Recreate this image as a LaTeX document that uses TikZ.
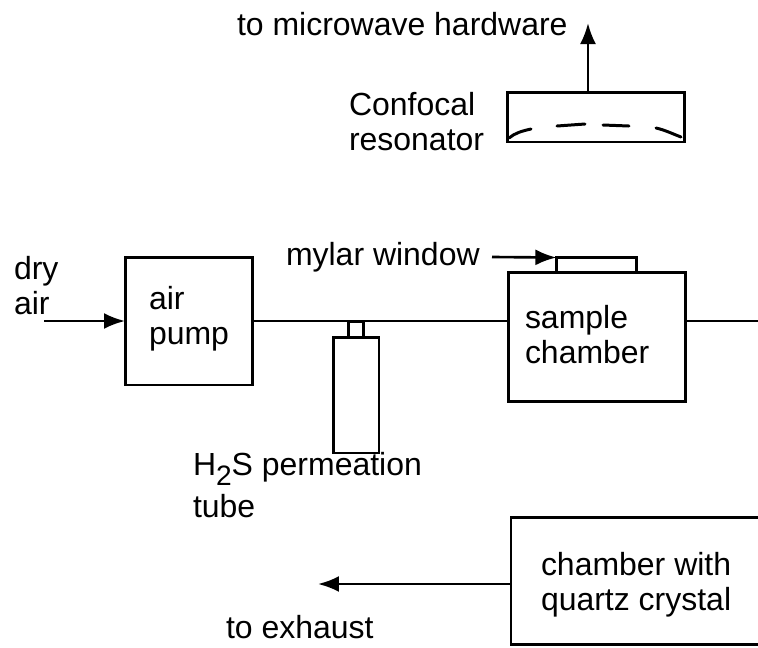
\documentclass[tikz,border=0pt]{standalone}
\usepackage{fontspec}
\setmainfont{Liberation Sans}
\usetikzlibrary{arrows.meta, positioning}

\begin{document}
\begin{tikzpicture}[
    x=0.02cm, y=-0.02cm,
    % Define styles for the nodes
    base_node/.style={rectangle, draw=black, line width=1.7pt, outer sep=0pt, inner sep=0pt, align=left, font=\fontsize{18.2}{19.9}\selectfont},
    text_node/.style={rectangle, inner sep=0pt, outer sep=0pt, align=left, anchor=base west, font=\fontsize{18.2}{19.9}\selectfont},
    % Styles for arrows
    pipe/.style={line width=1.5pt},
    arrow/.style={pipe, -{Latex[length=0.42cm, width=0.32cm]}},
    mirror/.style={line width=1.7pt, line cap=round}
]
    \useasboundingbox (0,0) rectangle (758,647);
    \clip (0,0) rectangle (758,647);

    % =========================================================================
    % MAIN FLOW
    % =========================================================================
    \node (air_pump) [base_node, minimum width=2.56cm, minimum height=2.56cm] at (189,321) {};
    \node (pump_text) [text_node] at (149,344) {air\\pump};
    \node (sample_chamber) [base_node, minimum width=3.54cm, minimum height=2.58cm, right=5.12cm of air_pump, yshift=-0.32cm] {};
    \node (sample_text) [text_node] at (525,363) {sample\\chamber};
    \node (mylar_window) [base_node, minimum width=1.6cm, minimum height=0.3cm, above=0cm of sample_chamber, xshift=-0.02cm] {};

    \coordinate (air_in) at (44,321);
    \coordinate (pipe_out) at (758,321);
    \draw [arrow] (air_in) -- (air_pump.west);
    \draw [pipe] (air_pump.east) -- (air_pump.east -| sample_chamber.west);
    \draw [pipe] (air_pump.east -| sample_chamber.east) -- (pipe_out);

    \node (dry_text) [text_node] at (14,314) {dry\\air};

    % Mylar window label
    \node (mylar_text) [text_node] at (286,265) {mylar window};
    \coordinate (mylar_start) at (492,257);
    \draw [arrow] (mylar_start) -- (mylar_window.north west);

    % =========================================================================
    % PERMEATION TUBE
    % =========================================================================
    \node (perm_tube) [base_node, minimum width=0.92cm, minimum height=2.32cm] at (356,395) {};
    \node (tube_neck) [base_node, minimum width=0.3cm, minimum height=0.32cm, above=0cm of perm_tube] {};
    \node (perm_text) [text_node] at (193,517) {H\raisebox{-0.3em}{\fontsize{16}{16}\selectfont 2}S permeation\\[0.2em]tube};

    % =========================================================================
    % CONFOCAL RESONATOR
    % =========================================================================
    \node (resonator) [base_node, minimum width=3.56cm, minimum height=1cm] at (596,117) {};
    \node (resonator_text) [text_node] at (349,150) {Confocal\\resonator};
    \node (microwave_text) [text_node] at (237,35) {to microwave hardware};
    \coordinate (microwave_out) at (588,23);
    \draw [arrow] (resonator.north -| microwave_out) -- (microwave_out);

    % Mirror surfaces
    \draw [mirror] (509,138) .. controls (515,133) and (522,131) .. (531,129);
    \draw [mirror] (557,126) -- (585,124);
    \draw [mirror] (603,125) -- (629,126);
    \draw [mirror] (656,128) .. controls (665,130) and (673,134) .. (681,137);

    % =========================================================================
    % EXHAUST
    % =========================================================================
    \node (quartz_chamber) [base_node, minimum width=6cm, minimum height=2.56cm, anchor=north west] at (511,517) {};
    \node (quartz_text) [text_node] at (541,610) {chamber with\\quartz crystal};
    \coordinate (exhaust_out) at (318,584);
    \draw [arrow] (quartz_chamber.west |- exhaust_out) -- (exhaust_out);
    \node (exhaust_text) [text_node] at (226,638) {to exhaust};

\end{tikzpicture}
\end{document}
